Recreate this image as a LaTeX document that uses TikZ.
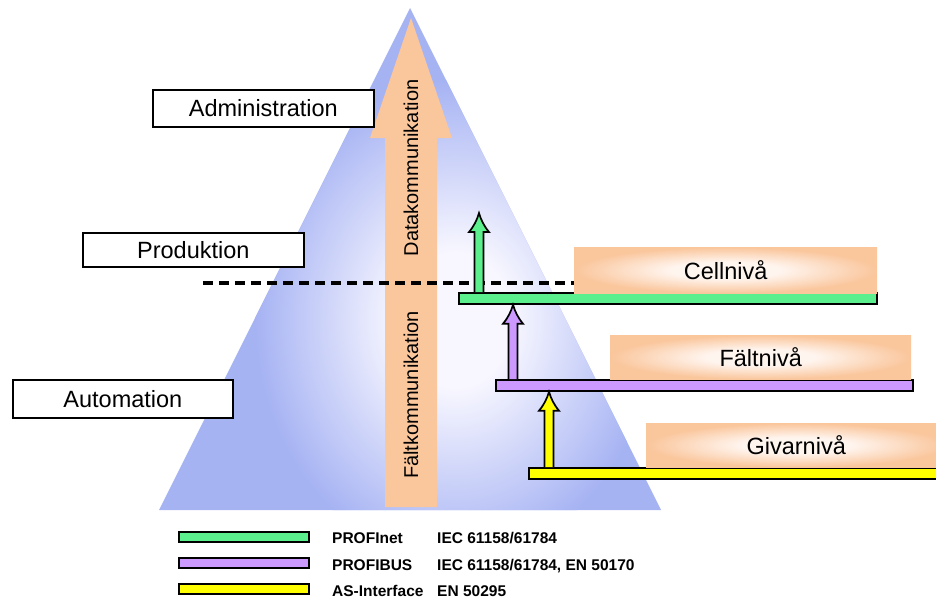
\documentclass[tikz,border=0pt]{standalone}
\usepackage{fontspec}
\setmainfont{Liberation Sans}
\usetikzlibrary{calc}

\definecolor{pyrblue}{HTML}{A6B3F3}
\definecolor{pyrlight}{HTML}{F8F7FF}
\definecolor{peach}{HTML}{FAC69C}
\definecolor{peachlight}{HTML}{FFF5EF}
\definecolor{netgreen}{HTML}{5CEF8E}
\definecolor{buspurple}{HTML}{CC99FF}
\definecolor{asyellow}{HTML}{FFFF00}

\pgfdeclareradialshading{pyrshade}{\pgfpoint{0bp}{0bp}}{%
  color(0bp)=(pyrlight); color(7bp)=(pyrlight); color(25bp)=(pyrblue); color(50bp)=(pyrblue)}
\pgfdeclareradialshading{levelshade}{\pgfpoint{0bp}{0bp}}{%
  color(0bp)=(peachlight); color(9bp)=(peachlight); color(25bp)=(peach); color(50bp)=(peach)}

% upward block arrow from a point on a bus bar (#1) to a tip (#2), filled with #3
\newcommand\busarrow[3]{%
  \draw[arrowline, fill=#3] let \p1=(#1), \p2=(#2) in
    (\x1-4.5pt,\y1) -- (\x1-4.5pt,\y2-19pt) -- (\x1-10pt,\y2-19pt)
    .. controls (\x1-5pt,\y2-13pt) and (\x1-2pt,\y2-7pt) .. (\x1,\y2)
    .. controls (\x1+2pt,\y2-7pt) and (\x1+5pt,\y2-13pt) .. (\x1+10pt,\y2-19pt)
    -- (\x1+4.5pt,\y2-19pt) -- (\x1+4.5pt,\y1);
}

\begin{document}
\begin{tikzpicture}[x=1pt,y=-1pt,
  labelbox/.style={draw=black, line width=1.7pt, fill=white, inner sep=0pt,
    anchor=north west, font=\fontsize{23.5}{26}\selectfont},
  levelbox/.style={shading=levelshade, inner sep=0pt, anchor=north west,
    font=\fontsize{23.5}{26}\selectfont},
  busbar/.style={draw=black, line width=1.7pt, inner sep=0pt, anchor=north west,
    minimum height=11pt},
  arrowline/.style={draw=black, line width=1.7pt, line join=miter},
  vertlabel/.style={rotate=90, inner sep=0pt, font=\fontsize{20}{22}\selectfont},
  dashline/.style={black, line width=3.2pt, dash pattern=on 10pt off 6pt},
  swatch/.style={draw=black, line width=1.7pt, inner sep=0pt, anchor=north west,
    minimum width=130pt, minimum height=10pt},
  legendtext/.style={inner sep=0pt, anchor=base west,
    font=\fontsize{15.5}{17}\selectfont\bfseries}
]
\useasboundingbox (0,0) rectangle (936,600);

% pyramid
\begin{scope}
  \clip (159,510) -- (410,8) -- (661,510) -- cycle;
  \fill[pyrblue] (150,0) rectangle (670,520);
  \shade[shading=pyrshade] (455,320) ellipse (200 and 240);
\end{scope}

% communication arrow through the pyramid
\fill[peach] (385,507) -- (385,138) -- (370,138) -- (411,18) -- (452,138)
  -- (437,138) -- (437,507) -- cycle;
\node[vertlabel] (datakomm) at (411,168) {Datakommunikation};
\node[vertlabel] (faltkomm) at (411,395) {Fältkommunikation};

% bus bars
\node[busbar, fill=netgreen, minimum width=418pt] (cellbar) at (458,292) {};
\node[busbar, fill=buspurple, minimum width=417pt] (faltbar) at (495,379) {};
\node[busbar, fill=asyellow, minimum width=420pt] (givarbar) at (528,467) {};

% level boxes
\node[levelbox, minimum width=303pt, minimum height=46pt] (cellbox) at (574,247) {Cellnivå};
\node[levelbox, minimum width=301pt, minimum height=44pt] (faltbox) at (610,335) {Fältnivå};
\node[levelbox, minimum width=300pt, minimum height=44pt] (givarbox) at (646,423) {Givarnivå};

% boundary between data and field communication
\coordinate (dashstart) at (203,283);
\draw[dashline] (dashstart) -- (dashstart -| cellbox.west);

% arrows between the bus levels
\coordinate (gtip) at (479,213);
\path ($(cellbar.north west)+(21,0)$) coordinate (gbase);
\path ($(faltbar.north west)+(18,0)$) coordinate (pbase);
\path ($(givarbar.north west)+(21,0)$) coordinate (ybase);
\busarrow{gbase}{gtip}{netgreen}
\busarrow{pbase}{pbase |- cellbar.south}{buspurple}
\busarrow{ybase}{ybase |- faltbar.south}{asyellow}

% hierarchy labels
\node[labelbox, minimum width=221pt, minimum height=37pt] (admin) at (152,89) {Administration};
\node[labelbox, minimum width=221pt, minimum height=34pt] (prod) at (82,232) {Produktion};
\node[labelbox, minimum width=220pt, minimum height=38pt] (auto) at (12,379) {Automation};

% legend
\node[swatch, fill=netgreen] (lgreen) at (178,531) {};
\node[swatch, fill=buspurple] (lpurple) at (178,557) {};
\node[swatch, fill=asyellow] (lyellow) at (178,583) {};
\node[legendtext] (n1) at (332,543.5) {PROFInet};
\node[legendtext] (n2) at (332,570) {PROFIBUS};
\node[legendtext] (n3) at (332,596.5) {AS-Interface};
\node[legendtext] (s1) at (437,543.5) {IEC 61158/61784};
\node[legendtext] (s2) at (437,570) {IEC 61158/61784, EN 50170};
\node[legendtext] (s3) at (437,596.5) {EN 50295};
\end{tikzpicture}
\end{document}
